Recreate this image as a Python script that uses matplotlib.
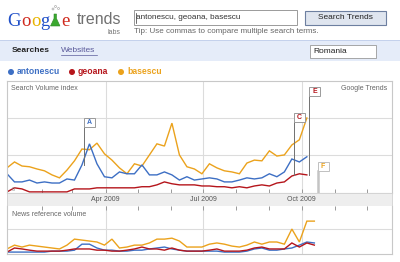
import datetime as dt

import matplotlib
matplotlib.use("Agg")
import matplotlib.pyplot as plt
import matplotlib.dates as mdates
from matplotlib.patches import Rectangle, Polygon, Circle

plt.rcParams['font.family'] = ['Liberation Sans', 'DejaVu Sans']

terms = ["antonescu", "geoana", "basescu"]
colors = ["#3d6fc4", "#b5151b", "#eba21c"]

start = dt.date(2008, 12, 30)

search_antonescu = [0.49, 0.27, 0.27, 0.32, 0.24, 0.27, 0.24, 0.24, 0.35, 0.32,
                    0.73, 1.30, 0.76, 0.41, 0.38, 0.54, 0.49, 0.49, 0.73, 0.46,
                    0.46, 0.54, 0.46, 0.32, 0.41, 0.32, 0.35, 0.38, 0.35, 0.27,
                    0.27, 0.32, 0.38, 0.35, 0.38, 0.49, 0.41, 0.54, 0.89, 0.81, 0.95]
search_geoana = [0.00, 0.11, 0.08, 0.00, 0.00, 0.00, 0.00, 0.00, 0.00, 0.08,
                 0.08, 0.08, 0.11, 0.11, 0.11, 0.11, 0.11, 0.11, 0.14, 0.14,
                 0.19, 0.27, 0.22, 0.19, 0.19, 0.19, 0.16, 0.16, 0.14, 0.14,
                 0.11, 0.14, 0.11, 0.16, 0.19, 0.16, 0.24, 0.27, 0.43, 0.49, 0.46]
search_basescu = [0.65, 0.81, 0.70, 0.68, 0.62, 0.57, 0.46, 0.38, 0.59, 0.84,
                  1.16, 1.14, 1.32, 1.03, 0.86, 0.65, 0.49, 0.76, 0.70, 1.00,
                  1.30, 1.24, 1.86, 1.00, 0.68, 0.62, 0.49, 0.76, 0.65, 0.57,
                  0.54, 0.49, 0.78, 0.86, 0.84, 1.11, 0.97, 1.00, 1.27, 1.41, 2.00]

news_antonescu = [0.04, 0.04, 0.04, 0.04, 0.04, 0.04, 0.08, 0.08, 0.08, 0.12,
                  0.37, 0.37, 0.21, 0.12, 0.12, 0.08, 0.08, 0.12, 0.12, 0.17,
                  0.21, 0.25, 0.17, 0.12, 0.08, 0.08, 0.08, 0.08, 0.08, 0.04,
                  0.04, 0.04, 0.08, 0.17, 0.21, 0.12, 0.12, 0.17, 0.21, 0.33, 0.46, 0.42]
news_geoana = [0.04, 0.21, 0.17, 0.12, 0.08, 0.08, 0.08, 0.08, 0.12, 0.17,
               0.17, 0.17, 0.12, 0.12, 0.08, 0.08, 0.12, 0.17, 0.25, 0.17,
               0.17, 0.12, 0.21, 0.12, 0.08, 0.08, 0.08, 0.12, 0.17, 0.08,
               0.08, 0.08, 0.12, 0.21, 0.25, 0.17, 0.17, 0.17, 0.42, 0.25, 0.42, 0.33]
news_basescu = [0.17, 0.33, 0.25, 0.33, 0.29, 0.25, 0.21, 0.17, 0.33, 0.58,
                0.54, 0.50, 0.46, 0.33, 0.58, 0.21, 0.25, 0.33, 0.33, 0.42,
                0.58, 0.58, 0.62, 0.50, 0.25, 0.25, 0.25, 0.37, 0.42, 0.37,
                0.29, 0.25, 0.33, 0.46, 0.37, 0.46, 0.46, 0.37, 1.00, 0.46, 1.33, 1.33]

# banderitas de noticias
flag_letters = ["A", "C", "E", "F"]
flag_dates = [dt.date(2009, 3, 12), dt.date(2009, 9, 24), dt.date(2009, 10, 8), dt.date(2009, 10, 16)]
flag_tops = [2.00, 2.14, 2.84, 0.81]
flag_ends = [0.73, 0.46, 0.46, 0.0]
flag_colors = ["#3d6fc4", "#b5151b", "#b5151b", "#eba21c"]

quarters = [dt.date(2009, 4, 1), dt.date(2009, 7, 1), dt.date(2009, 10, 1)]
quarter_labels = ["Apr 2009", "Jul 2009", "Oct 2009"]
months = [dt.date(2009, m, 1) for m in range(2, 13)]

weeks_s = [start + dt.timedelta(days=7 * i) for i in range(len(search_basescu))]
weeks_n = [start + dt.timedelta(days=7 * i) for i in range(len(news_basescu))]

# --- figura en coordenadas de píxel ---
W, H = 400, 262
fig = plt.figure(figsize=(W / 100, H / 100), dpi=100)


def px_axes(x0, y0, x1, y1):
    return fig.add_axes([x0 / W, 1 - y1 / H, (x1 - x0) / W, (y1 - y0) / H])


def ptext(x, y, s, **kw):
    kw.setdefault('va', 'center')
    return fig.text(x / W, 1 - y / H, s, **kw)


bg = px_axes(0, 0, W, H)
bg.set_xlim(0, W); bg.set_ylim(H, 0); bg.axis('off')

# logo
logo = [("G", 7, "#1f4fc8"), ("o", 21.2, "#d02a1e"), ("o", 30.8, "#e8b400"), ("g", 40.4, "#1f4fc8"),
        ("e", 61.5, "#d02a1e")]
for ch, x, c in logo:
    ptext(x, 25.5, ch, fontfamily='Liberation Serif', fontsize=13.5, color=c, va='baseline')
bg.add_patch(Polygon([(50.5, 26), (60, 26), (56.5, 18.5), (56.5, 14), (54, 14), (54, 18.5)],
                     closed=True, fc="#3aa82f", ec="#2e8a26", lw=0.4))
for cx, cy in [(53, 9), (55.5, 6.5), (58.5, 8.5)]:
    bg.add_patch(Circle((cx, cy), 1.0, fc="none", ec="#999999", lw=0.4))
ptext(77, 23.5, "trends", fontsize=11.5, color="#707070", va='baseline')
ptext(107, 33.5, "labs", fontsize=5, color="#777777", va='baseline')

# caja de búsqueda y botón
bg.add_patch(Rectangle((134, 10), 163, 15, fc="white", ec="#9a9a9a", lw=0.7))
bg.plot([135.5, 135.5], [12.5, 22.5], color="#333333", lw=0.5)
ptext(136, 17.8, ", ".join(terms), fontsize=5.9, color="#333333")
bg.add_patch(Rectangle((305, 11), 81, 14, fc="#dfe5ef", ec="#6d7fa0", lw=0.8))
ptext(345.5, 17.8, "Search Trends", fontsize=6, color="#222222", ha='center')
ptext(134, 31.5, "Tip: Use commas to compare multiple search terms.", fontsize=5.8, color="#666666")

# barra azul
bg.add_patch(Rectangle((0, 40), W, 21, fc="#e5ecf9", ec="none"))
bg.plot([0, W], [40.3, 40.3], color="#c3d1ec", lw=0.7)
ptext(12, 51, "Searches", fontsize=6, color="#222222", fontweight='bold')
ptext(61, 51, "Websites", fontsize=6, color="#5b5b9b")
bg.plot([61, 97], [54.8, 54.8], color="#5b5b9b", lw=0.5)
bg.add_patch(Rectangle((310, 45), 66, 13, fc="white", ec="#999999", lw=0.6))
ptext(313, 51.5, "Romania", fontsize=6, color="#222222")

# leyenda
for name, c, x in zip(terms, colors, [11, 72, 121]):
    bg.add_patch(Circle((x, 72), 3, fc=c, ec="none"))
    ptext(x + 6, 72, name, fontsize=6.2, color=c, fontweight='bold')

x0 = mdates.date2num(start)
xlim = (x0, x0 + 359.5)


def style_chart(ax, ylim, ygrid, tick_side):
    ax.set_xlim(xlim); ax.set_ylim(ylim)
    ax.set_facecolor("white")
    for s in ax.spines.values():
        s.set_color("#c8c8c8"); s.set_linewidth(0.8)
    ax.set_yticks(ygrid)
    ax.yaxis.grid(True, color="#dcdcdc", lw=0.8)
    ax.tick_params(axis='y', length=0, labelleft=False)
    ax.set_xticks(months)
    ax.tick_params(axis='x', direction='in', length=2.6, width=0.7, color="#999999",
                   labelbottom=False, bottom=(tick_side == 'bottom'), top=(tick_side == 'top'))
    for q in quarters:
        ax.axvline(q, color="#dcdcdc", lw=0.8, zorder=0)


# --- gráfico principal ---
ax = px_axes(7, 81, 392, 193)
style_chart(ax, (-0.03, 3.0), [1, 2], 'bottom')
for vals, c in [(search_basescu, colors[2]), (search_antonescu, colors[0]), (search_geoana, colors[1])]:
    ax.plot(weeks_s, vals, color=c, lw=1.0, solid_joinstyle='miter')

ptext(11, 88, "Search Volume index", fontsize=5, color="#666666")
ptext(387, 88, "Google Trends", fontsize=5, color="#666666", ha='right')
ptext(12, 189.5, "0", fontsize=4, color="#888888")

for letter, d, top, end, c in zip(flag_letters, flag_dates, flag_tops, flag_ends, flag_colors):
    xd = mdates.date2num(d)
    hgt = 9 / 37
    light = letter == "F"
    ax.plot([xd, xd], [end, top - hgt], color="#c4c4c4" if light else "#707070",
            lw=1.8 if light else 0.7, zorder=5)
    ax.add_patch(Rectangle((xd, top - hgt), 10.3, hgt, fc="white",
                           ec="#c0c0c0" if light else "#9a9a9a", lw=0.7, zorder=6))
    ax.text(xd + 5.15, top - hgt / 2, letter, fontsize=5, fontweight='bold', color=c,
            ha='center', va='center', zorder=7)

# banda de fechas
band = px_axes(7, 193, 392, 206)
band.set_xlim(xlim); band.set_ylim(0, 1)
band.set_facecolor("#eeeeee")
band.set_xticks([]); band.set_yticks([])
for s in band.spines.values():
    s.set_color("#d0d0d0"); s.set_linewidth(0.6)
for q, lab in zip(quarters, quarter_labels):
    band.text(q, 0.5, lab, fontsize=5, color="#555555", ha='center', va='center')

# --- volumen de noticias ---
axn = px_axes(7, 206, 392, 254)
style_chart(axn, (-0.04, 1.96), [1], 'top')
axn.spines['top'].set_visible(False)
for vals, c in [(news_basescu, colors[2]), (news_antonescu, colors[0]), (news_geoana, colors[1])]:
    axn.plot(weeks_n, vals, color=c, lw=1.0, solid_joinstyle='miter')
ptext(12, 214, "News reference volume", fontsize=5, color="#666666")

fig.savefig("out.png", dpi=100, facecolor="white")
